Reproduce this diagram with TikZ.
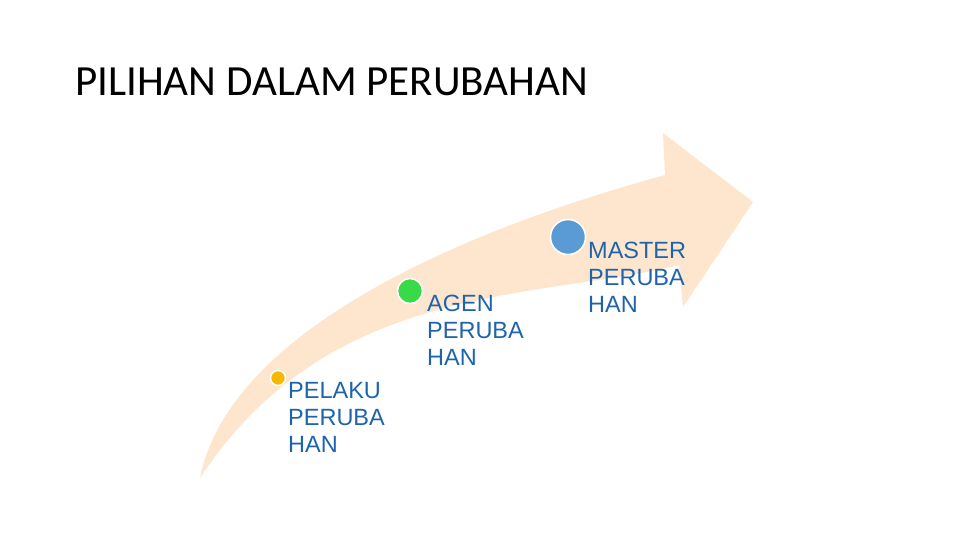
\documentclass[tikz,border=0pt]{standalone}
\usepackage{fontspec}
\setmainfont{Liberation Sans}
\newfontfamily\titlefont{Carlito}
\usetikzlibrary{positioning}

\definecolor{peach}{HTML}{FDE6CD}
\definecolor{labelblue}{HTML}{1F64AA}
\definecolor{dotorange}{HTML}{F5B800}
\definecolor{dotgreen}{HTML}{38DA48}
\definecolor{dotblue}{HTML}{5B9BD5}

\begin{document}
\begin{tikzpicture}[x=1pt,y=-1pt,
  dot/.style={circle,draw=white,line width=1.5pt,inner sep=0pt},
  lbl/.style={anchor=north west,inner sep=0pt,align=left,text=labelblue,
    font=\fontsize{23.5}{27}\selectfont}]
  \useasboundingbox (0,0) rectangle (960,540);

  \node[anchor=base west,inner sep=0pt,font=\titlefont\fontsize{43}{50}\selectfont]
    (title) at (75,96) {PILIHAN DALAM PERUBAHAN};

  % the big curved arrow
  \fill[peach] (200,478) .. controls (225,350) and (410,245) .. (665,175)
    -- (663,133) -- (753,202) -- (683,307) -- (679,265)
    .. controls (540,300) and (330,280) .. (200,478) -- cycle;

  \node[dot,fill=dotorange,minimum size=15pt] (pelaku) at (278,378) {};
  \node[dot,fill=dotgreen,minimum size=25pt] (agen) at (410,291) {};
  \node[dot,fill=dotblue,minimum size=35pt] (master) at (568,237) {};

  \node[lbl] (pelakuText) at ([shift={(10,4)}]pelaku.center) {PELAKU\\PERUBA\\HAN};
  \node[lbl] (agenText) at ([shift={(17,4)}]agen.center) {AGEN\\PERUBA\\HAN};
  \node[lbl] (masterText) at ([shift={(20,5)}]master.center) {MASTER\\PERUBA\\HAN};
\end{tikzpicture}
\end{document}
